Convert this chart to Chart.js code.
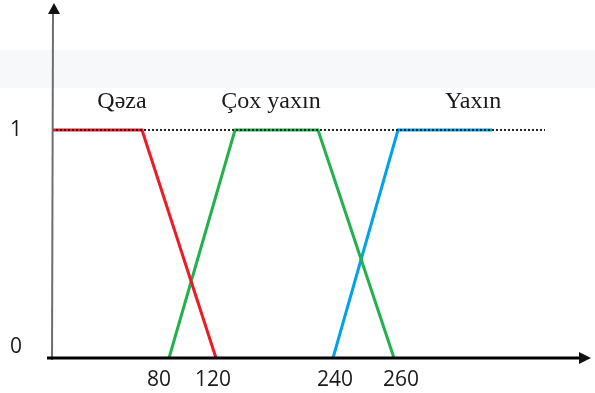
<!DOCTYPE html>
<html>
<head>
<meta charset="utf-8">
<script src="https://cdn.jsdelivr.net/npm/chart.js@4"></script>
<style>
  html, body { margin: 0; padding: 0; background: #fff; }
  #wrap { width: 595px; height: 393px; }
</style>
</head>
<body>
<div id="wrap"><canvas id="fuzzy" width="595" height="393"></canvas></div>
<script>
// Membership functions (x in sketch units along the axis, y = degree 0..1)
const redX = [0, 90, 164];
const redY = [1, 1, 0];
const greenX = [117, 183, 266, 342];
const greenY = [0, 1, 1, 0];
const blueX = [281, 346, 440];
const blueY = [0, 1, 1];
const refX = [0, 493];
const refY = [1, 1];

// Axis tick labels (the sketch is not drawn to scale)
const xTickPos = [107, 161, 283, 349];
const xTickLabels = ['80', '120', '240', '260'];
const yTickVals = [1, 0.05];
const yTickLabels = ['1', '0'];

// Set names
const setNames = ['Qəza', 'Çox yaxın', 'Yaxın'];
const setNameX = [70, 219, 421];
const setNameY = 1.125;

function pts(xs, ys) {
  return xs.map((x, i) => ({ x: x, y: ys[i] }));
}

const axesPlugin = {
  id: 'axesPlugin',
  beforeDraw(chart) {
    const ctx = chart.ctx;
    ctx.save();
    ctx.fillStyle = '#f7f8fa';
    ctx.fillRect(0, 50, 595, 38);
    ctx.restore();
  },
  afterDatasetsDraw(chart) {
    const ctx = chart.ctx;
    const xs = chart.scales.x;
    const ys = chart.scales.y;
    const x0 = xs.getPixelForValue(0);
    const y0 = ys.getPixelForValue(0);
    const top = chart.chartArea.top;
    const right = chart.chartArea.right;
    ctx.save();

    // y axis
    ctx.strokeStyle = '#6e6e6e';
    ctx.lineWidth = 2;
    ctx.beginPath();
    ctx.moveTo(x0, y0 + 2);
    ctx.lineTo(x0 + 1, top + 8);
    ctx.stroke();
    ctx.fillStyle = '#111';
    ctx.beginPath();
    ctx.moveTo(x0 + 2, top - 2);
    ctx.lineTo(x0 - 4, top + 9);
    ctx.lineTo(x0 + 8, top + 9);
    ctx.closePath();
    ctx.fill();

    // x axis
    ctx.strokeStyle = '#000';
    ctx.lineWidth = 3;
    ctx.beginPath();
    ctx.moveTo(x0 - 5, y0);
    ctx.lineTo(right - 8, y0);
    ctx.stroke();
    ctx.beginPath();
    ctx.moveTo(right + 1, y0);
    ctx.lineTo(right - 11, y0 - 6);
    ctx.lineTo(right - 11, y0 + 6);
    ctx.closePath();
    ctx.fill();

    // tick labels
    ctx.fillStyle = '#1a1a1a';
    ctx.font = '21px "Open Sans", sans-serif';
    ctx.textAlign = 'center';
    ctx.textBaseline = 'middle';
    xTickLabels.forEach((t, i) => {
      ctx.fillText(t, xs.getPixelForValue(xTickPos[i]), y0 + 22);
    });
    yTickLabels.forEach((t, i) => {
      ctx.fillText(t, x0 - 36, ys.getPixelForValue(yTickVals[i]));
    });

    // set names
    ctx.font = '24px "Liberation Serif", "DejaVu Serif", serif';
    setNames.forEach((t, i) => {
      ctx.fillText(t, xs.getPixelForValue(setNameX[i]), ys.getPixelForValue(setNameY));
    });
    ctx.restore();
  }
};

new Chart(document.getElementById('fuzzy'), {
  type: 'scatter',
  data: {
    datasets: [
      { data: pts(refX, refY), borderColor: '#222', borderWidth: 2, borderDash: [2, 2], showLine: true, pointRadius: 0 },
      { data: pts(redX, redY), borderColor: '#ed1c24', borderWidth: 3, showLine: true, pointRadius: 0 },
      { data: pts(greenX, greenY), borderColor: '#22b14c', borderWidth: 3, showLine: true, pointRadius: 0 },
      { data: pts(blueX, blueY), borderColor: '#00a2e8', borderWidth: 3, showLine: true, pointRadius: 0 }
    ]
  },
  options: {
    responsive: false,
    animation: false,
    clip: false,
    layout: { padding: { left: 52, right: 5, top: 5, bottom: 35 } },
    elements: { line: { borderJoinStyle: 'miter', tension: 0 } },
    plugins: { legend: { display: false }, tooltip: { enabled: false } },
    scales: {
      x: { type: 'linear', display: false, min: 0, max: 538 },
      y: { type: 'linear', display: false, min: 0, max: 1.548 }
    }
  },
  plugins: [axesPlugin]
});
</script>
</body>
</html>
